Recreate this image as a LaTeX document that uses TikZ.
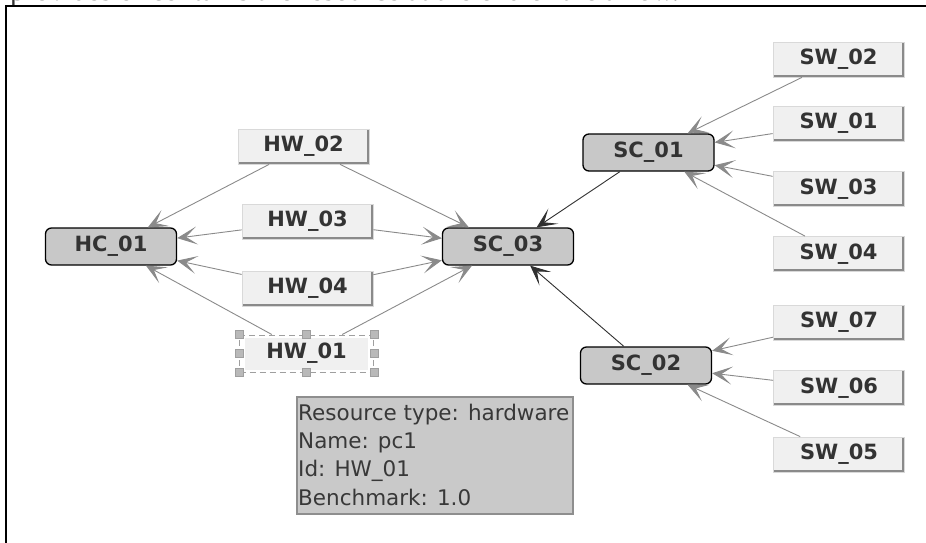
\documentclass[tikz,border=0pt]{standalone}
\usepackage{fontspec}
\setmainfont{DejaVu Sans}
\newfontfamily\bodyserif{Liberation Serif}
\usetikzlibrary{arrows.meta}

\definecolor{nodefill}{HTML}{C8C8C8}
\definecolor{boxfill}{HTML}{F0F0F0}
\definecolor{bevelgray}{HTML}{8A8A8A}
\definecolor{edgegray}{HTML}{8A8A8A}
\definecolor{edgedark}{HTML}{303030}
\definecolor{labeltext}{HTML}{333333}
\definecolor{tipfill}{HTML}{C9C9C9}
\definecolor{tipline}{HTML}{8E8E8E}

\begin{document}
\begin{tikzpicture}[
  x=1pt, y=-1pt,
  lbl/.style={font=\fontsize{21}{24}\selectfont\bfseries, text=labeltext},
  comp/.style={lbl, draw=black, line width=1.3pt, fill=nodefill,
    rounded corners=6pt, minimum width=131pt, minimum height=37pt, inner sep=0pt},
  res/.style={lbl, fill=boxfill, draw=black!15, line width=0.8pt,
    minimum width=131pt, minimum height=35pt, inner sep=0pt,
    path picture={\draw[bevelgray, line width=5pt]
      (path picture bounding box.north east) --
      (path picture bounding box.south east) --
      (path picture bounding box.south west);}},
  selres/.style={lbl, draw=gray!75, line width=1pt, dash pattern=on 6pt off 4pt,
    minimum width=134pt, minimum height=37pt, inner sep=0pt,
    path picture={\fill[boxfill]
      ([shift={(5pt,-3pt)}]path picture bounding box.north west) rectangle
      ([shift={(-6pt,2pt)}]path picture bounding box.south east);}},
  handle/.style={fill=gray!55, draw=gray!75, line width=0.6pt},
  edge/.style={draw=edgegray, line width=0.9pt,
    -{Stealth[length=20pt, width=18pt, inset=11pt]}},
  darkedge/.style={edge, draw=edgedark},
  tipbox/.style={fill=tipfill, draw=tipline, line width=1.5pt, inner sep=0pt},
  tiptext/.style={font=\fontsize{21.5}{28}\selectfont, text=black!78, inner sep=0pt}
]
\useasboundingbox (0,0) rectangle (926,542);
\clip (0,0) rectangle (926,542);

% last line of the preceding paragraph, cut by the page edge
\begin{scope}
  \clip (0,0) rectangle (926,4.5);
  \node[anchor=base west, inner sep=0pt, text=black!80,
        font=\bodyserif\fontsize{29.5}{30}\selectfont]
    (caption) at (10,0.5) {provides or contains the resource at the end of the arrow.};
\end{scope}

% frame
\draw[line width=2pt] (6,543) -- (6,6) -- (930,6);

% composite resources
\node[comp] (hc01) at (111,246.5) {HC\_01};
\node[comp] (sc03) at (508,246.5) {SC\_03};
\node[comp] (sc01) at (648.5,152.5) {SC\_01};
\node[comp] (sc02) at (646,365.5) {SC\_02};

% hardware resources
\node[res] (hw02) at (303.5,146.5) {HW\_02};
\node[res] (hw03) at (307.5,221.5) {HW\_03};
\node[res] (hw04) at (307.5,288.5) {HW\_04};
\node[selres] (hw01) at (306.5,353.5) {HW\_01};
\foreach \a in {north west,north,north east,west,east,south west,south,south east}
  \filldraw[handle] ([shift={(-4pt,-4pt)}]hw01.\a) rectangle ([shift={(4pt,4pt)}]hw01.\a);

% software resources
\node[res] (sw02) at (838.5,59.5) {SW\_02};
\node[res] (sw01) at (838.5,123.5) {SW\_01};
\node[res] (sw03) at (838.5,189) {SW\_03};
\node[res] (sw04) at (838.5,254) {SW\_04};
\node[res] (sw07) at (839,322.5) {SW\_07};
\node[res] (sw06) at (839,388) {SW\_06};
\node[res] (sw05) at (839,454.5) {SW\_05};

% containment edges
\draw[edge] (hw02) -- (hc01);
\draw[edge] (hw03) -- (hc01);
\draw[edge] (hw04) -- (hc01);
\draw[edge] (hw01) -- (hc01);
\draw[edge] (hw02) -- (sc03);
\draw[edge] (hw03) -- (sc03);
\draw[edge] (hw04) -- (sc03);
\draw[edge] (hw01) -- (sc03);
\draw[darkedge] (sc01) -- (sc03);
\draw[darkedge] (sc02) -- (sc03);
\draw[edge] (sw02) -- (sc01);
\draw[edge] (sw01) -- (sc01);
\draw[edge] (sw03) -- (sc01);
\draw[edge] (sw04) -- (sc01);
\draw[edge] (sw07) -- (sc02);
\draw[edge] (sw06) -- (sc02);
\draw[edge] (sw05) -- (sc02);

% tooltip of the selected resource
\node[tipbox, anchor=north west, minimum width=276pt, minimum height=117pt] (tip) at (296,396) {};
\node[tiptext, anchor=base west] (tip1) at (298,420) {Resource type: hardware};
\node[tiptext, anchor=base west] (tip2) at (298,448.3) {Name: pc1};
\node[tiptext, anchor=base west] (tip3) at (298,476.7) {Id: HW\_01};
\node[tiptext, anchor=base west] (tip4) at (298,505) {Benchmark: 1.0};
\end{tikzpicture}
\end{document}
